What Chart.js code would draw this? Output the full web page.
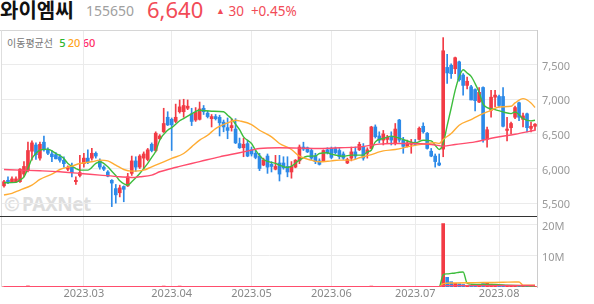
<!DOCTYPE html>
<html>
<head>
<meta charset="utf-8">
<script src="https://cdn.jsdelivr.net/npm/chart.js@4.4.1/dist/chart.umd.min.js"></script>
<style>
  body { margin: 0; background: #fff; width: 594px; height: 304px; overflow: hidden; position: relative; font-family: 'Noto Sans', 'Noto Sans CJK KR', sans-serif; }
  .t { position: absolute; white-space: nowrap; }
  .ln { position: absolute; pointer-events: none; }
  canvas { position: absolute; left: 0; }
</style>
</head>
<body>
<div class="t" style="left:0;top:0;font:700 20px/20px 'Noto Sans CJK KR';color:#111">와이엠씨</div>
<div class="t" style="left:86px;top:4px;font:400 14px/14px 'Noto Sans';color:#a0a0a0">155650</div>
<div class="t" style="left:147px;top:-2px;font:400 22px/22px 'Noto Sans';color:#f24b57">6,640</div>
<div class="t" style="left:216px;top:4px;font:400 13.5px/14px 'Noto Sans';color:#f24b57"><span style="font-size:9px;position:relative;top:-2px">▲</span> 30 &nbsp;+0.45%</div>

<div class="t" style="left:4px;top:195px;font:700 19px/19px 'Noto Sans';color:#dedede;letter-spacing:-0.5px">©&thinsp;PAXNet</div>
<div class="t" style="left:7px;top:35px;font:400 10px/10px 'Noto Sans CJK KR';color:#777">이동평균선
  <span style="font:500 11px 'Noto Sans';color:#2db52d;margin-left:4px">5</span>
  <span style="font:500 11px 'Noto Sans';color:#ffa31a">20</span>
  <span style="font:500 11px 'Noto Sans';color:#ff2d64">60</span></div>

<canvas id="priceChart" width="594" height="187" style="top:30px"></canvas>
<canvas id="volChart" width="594" height="87" style="top:217px"></canvas>

<div class="ln" style="left:0;top:30px;width:537px;height:1px;background:#d6d6d6"></div>
<div class="ln" style="left:1px;top:30px;width:1px;height:257px;background:#dedede"></div>
<div class="ln" style="left:537px;top:30px;width:1px;height:258px;background:#cccccc"></div>
<div class="ln" style="left:0;top:216px;width:537px;height:1px;background:#333"></div>

<script>
// 일봉 시세 (2023.02.01 ~ 2023.08.14)
const opens = [5750,5830,5810,5810,5810,5920,5970,6250,6340,6150,6380,6270,6210,6200,6170,6120,5990,6020,5810,5900,
  6070,6150,6150,6220,6110,6020,5950,5830,5710,5650,5740,5750,5930,6110,6020,6150,6130,6350,6260,6430,
  6530,6740,6710,6680,6820,6820,6870,6790,6700,6710,6870,6800,6720,6750,6740,6670,6590,6590,6570,6360,
  6300,6360,6270,6220,6180,6050,6180,6060,5990,6080,6080,6030,5950,6020,6110,6310,6300,6260,6180,6110,
  6110,6270,6290,6290,6260,6210,6080,6150,6240,6270,6310,6220,6290,6600,6470,6410,6420,6450,6360,6700,
  6410,6320,6350,6380,6420,6610,6510,6250,6180,6080,6280,7460,7490,7440,7540,7350,7200,7180,7140,6960,
  7170,6420,6840,7030,7040,7040,6550,6590,6740,6950,6710,6790,6580,6610];
const highs = [5830,5880,5880,5880,6000,6100,6380,6400,6370,6380,6470,6300,6260,6230,6200,6170,6040,6080,5880,6190,
  6220,6270,6290,6240,6140,6040,5970,5840,5770,5760,5750,5930,6180,6170,6200,6240,6290,6370,6530,6490,
  6870,6820,6730,6930,6990,7000,6990,6870,6880,6960,6910,6830,6780,6780,6770,6700,6730,6720,6720,6440,
  6440,6410,6310,6260,6220,6150,6210,6100,6190,6190,6170,6170,6100,6130,6340,6380,6310,6290,6220,6140,
  6270,6300,6310,6310,6290,6240,6150,6310,6310,6380,6360,6300,6610,6630,6530,6550,6480,6530,6650,6710,
  6450,6410,6420,6420,6600,6660,6520,6290,6210,6210,7890,7650,7510,7610,7550,7370,7320,7200,7150,7170,
  7180,6600,7130,7130,7060,7170,6740,6670,6900,6960,6800,6800,6670,6650];
const lows = [5730,5780,5800,5800,5800,5880,5950,6120,6130,6120,6250,6200,6100,6140,6090,6020,5970,5880,5770,5880,
  6020,6070,6120,6150,5990,5970,5880,5450,5500,5590,5520,5740,5900,5960,6000,6000,6110,6240,6240,6420,
  6520,6620,6260,6660,6800,6740,6850,6620,6680,6700,6780,6730,6600,6700,6470,6530,6430,6540,6360,6290,
  6170,6170,6180,6140,5970,6040,5930,5950,5980,5820,5990,5880,5860,6010,6070,6260,6230,6130,6070,6050,
  6100,6210,6140,6210,6140,6130,6070,6110,6140,6260,6120,6150,6280,6440,6370,6340,6360,6340,6340,6380,
  6220,6310,6220,6330,6410,6510,6280,6170,6020,6040,6170,7230,7300,7370,7260,7060,7150,6990,6830,6950,
  6380,6310,6740,6890,6890,6600,6400,6500,6720,6690,6600,6530,6530,6550];
const closes = [5810,5800,5850,5850,5990,6030,6260,6370,6200,6350,6270,6220,6170,6140,6120,6070,6020,5940,5830,5940,
  6150,6090,6220,6180,6020,5990,5890,5790,5620,5720,5700,5880,6110,6020,6180,6210,6270,6260,6510,6470,
  6650,6630,6630,6740,6890,6910,6900,6680,6810,6860,6820,6750,6750,6720,6660,6600,6550,6620,6370,6300,
  6350,6180,6210,6160,6000,6120,6020,6030,6030,5920,6010,5950,6030,6120,6310,6280,6240,6150,6100,6060,
  6260,6230,6160,6230,6170,6150,6130,6240,6180,6350,6150,6270,6600,6460,6410,6500,6450,6410,6570,6410,
  6320,6370,6370,6350,6580,6530,6290,6180,6100,6050,7700,7380,7370,7600,7280,7200,7260,6990,6980,7100,
  6420,6560,7030,7060,6910,6610,6570,6650,6880,6740,6760,6590,6610,6640];
// 거래량 (백만주)
const volumes = [0.10,0.08,0.09,0.07,0.15,0.18,0.35,0.20,0.12,0.15,0.14,0.08,0.07,0.06,0.07,0.08,0.06,0.09,0.10,0.12,
  0.14,0.10,0.09,0.07,0.08,0.06,0.07,0.15,0.14,0.09,0.08,0.10,0.16,0.09,0.10,0.09,0.11,0.10,0.22,0.12,
  0.30,0.18,0.16,0.14,0.30,0.20,0.12,0.13,0.10,0.14,0.09,0.08,0.07,0.06,0.09,0.08,0.10,0.07,0.12,0.08,
  0.07,0.08,0.06,0.05,0.09,0.06,0.07,0.05,0.06,0.08,0.06,0.07,0.06,0.07,0.14,0.08,0.06,0.07,0.06,0.05,
  0.09,0.06,0.07,0.05,0.06,0.05,0.05,0.08,0.06,0.09,0.07,0.08,0.30,0.14,0.10,0.09,0.07,0.06,0.15,0.12,
  0.09,0.06,0.07,0.05,0.12,0.10,0.09,0.07,0.08,0.07,20.3,3.1,1.7,1.2,1.0,0.8,0.5,0.6,0.5,0.4,
  1.1,1.2,0.9,0.5,0.4,0.6,0.4,0.3,0.4,0.4,0.3,0.3,0.2,0.2];

// 이동평균선 (그림에서 읽은 값, [봉 번호, 값])
const ma5 = [[0,5795],[3,5800],[4,5833],[5,5880],[6,6000],[7,6145],[8,6217],[9,6265],[11,6280],[13,6217],[15,6145],
  [16,6073],[18,6000],[19,5977],[21,5977],[23,6073],[24,6097],[26,6025],[27,5960],[28,5900],[29,5823],[31,5761],
  [32,5809],[34,5929],[36,6073],[37,6160],[38,6250],[39,6409],[41,6553],[42,6590],[44,6690],[45,6720],[47,6790],
  [49,6841],[52,6827],[55,6820],[56,6769],[57,6720],[58,6640],[59,6560],[60,6457],[62,6361],[63,6265],[65,6130],
  [68,6073],[69,6049],[71,6015],[72,6034],[74,6121],[76,6178],[78,6180],[79,6217],[81,6227],[82,6207],[85,6178],
  [87,6193],[90,6193],[91,6241],[92,6265],[93,6385],[95,6433],[97,6467],[98,6457],[100,6419],[102,6380],[103,6371],
  [105,6409],[107,6400],[108,6337],[109,6275],[110,6360],[111,6620],[112,6870],[113,7129],[114,7322],[115,7425],
  [116,7380],[117,7330],[118,7226],[119,7100],[120,6930],[121,6880],[123,6851],[125,6817],[127,6793],[128,6817],
  [130,6721],[132,6688],[133,6697]];
const ma20 = [[0,5617],[2,5641],[4,5689],[7,5761],[9,5842],[12,5919],[14,5986],[17,6034],[19,6073],[22,6097],
  [24,6121],[26,6111],[28,6049],[30,5986],[32,5962],[35,5977],[37,6025],[40,6097],[42,6145],[45,6217],[47,6313],
  [49,6409],[51,6480],[53,6577],[56,6659],[58,6697],[59,6688],[62,6635],[64,6553],[67,6457],[69,6361],[72,6275],
  [74,6178],[77,6121],[79,6097],[82,6111],[84,6121],[87,6121],[89,6155],[92,6200],[94,6241],[95,6255],[98,6275],
  [102,6323],[105,6352],[108,6371],[109,6361],[110,6420],[112,6505],[114,6625],[117,6707],[119,6769],[122,6841],
  [124,6889],[127,6899],[128,6947],[130,7009],[132,6947],[133,6880]];
const ma60 = [[0,5986],[4,5977],[9,5967],[14,5953],[19,5929],[24,5905],[29,5881],[32,5871],[34,5881],[37,5905],
  [39,5953],[42,6001],[44,6030],[47,6073],[49,6100],[54,6169],[59,6227],[62,6265],[64,6289],[69,6299],[74,6294],
  [79,6289],[84,6299],[89,6313],[92,6337],[94,6352],[97,6361],[102,6361],[107,6347],[109,6330],[110,6323],
  [113,6347],[118,6385],[123,6447],[128,6495],[133,6553]];
const volMa5 = [[0,0.12],[109,0.1],[110,3.9],[111,4.2],[112,4.35],[113,4.5],[114,4.7],[115,4.8],[116,1.2],
  [117,0.9],[120,0.8],[123,0.8],[126,0.6],[130,0.4],[133,0.3]];
const volMa20 = [[0,0.12],[109,0.1],[110,1.1],[112,1.3],[118,1.4],[122,1.45],[125,1.5],[128,1.6],[129,1.6],
  [130,0.6],[133,0.55]];
const volMa60 = [[0,0.12],[109,0.1],[110,0.45],[133,0.5]];

// 눈금
const priceTicks = [5500, 6000, 6500, 7000, 7500];
const volTicks = [10, 20];

const holidays = ['2023-03-01', '2023-05-01', '2023-05-05', '2023-05-29', '2023-06-06'];

const RED = '#f23b45';
const BLUE = '#2d8ae8';
const GREEN = '#3dbd3d';
const ORANGE = '#ffac33';
const PINK = '#ff4d6d';

// 거래일 라벨 만들기
const dates = [];
for (let d = new Date(Date.UTC(2023, 1, 1)); dates.length < closes.length; d.setUTCDate(d.getUTCDate() + 1)) {
  const s = d.toISOString().slice(0, 10);
  const wd = d.getUTCDay();
  if (wd === 0 || wd === 6 || holidays.includes(s)) continue;
  dates.push(s.replace(/-/g, '.'));
}
const isMonthStart = i => i > 0 && dates[i] && dates[i].slice(0, 7) !== dates[i - 1].slice(0, 7);
const candleColors = closes.map((c, i) => c >= opens[i] ? RED : BLUE);
const toPoints = arr => arr.map(([i, v]) => ({ x: dates[i], y: v }));

Chart.defaults.font.family = "'Noto Sans', sans-serif";
Chart.defaults.animation = false;

function xAxis(showLabels) {
  return {
    offset: true,
    grid: { offset: false, drawTicks: false, color: c => isMonthStart(c.index) ? '#ebebeb' : 'rgba(0,0,0,0)' },
    border: { display: false },
    ticks: {
      display: showLabels, autoSkip: false, maxRotation: 0, padding: 0,
      color: '#888', font: { size: 11 },
      callback: (v, i) => isMonthStart(i) ? dates[i].slice(0, 7) : ''
    },
    afterFit: s => { s.height = showLabels ? 17 : 0; s.paddingLeft = 0; s.paddingRight = 0; }
  };
}

function yAxis(min, max, tickList, fmt) {
  return {
    position: 'right', min: min, max: max,
    afterBuildTicks: s => { s.ticks = tickList.map(v => ({ value: v })); },
    ticks: { padding: 5, labelOffset: 2, color: '#999', font: { size: 11 }, callback: fmt },
    grid: { color: '#ebebeb', drawTicks: false },
    border: { display: false },
    afterFit: s => { s.width = 57; s.paddingTop = 0; s.paddingBottom = 0; }
  };
}

function maLine(points, color) {
  return {
    type: 'line', data: toPoints(points), borderColor: color, borderWidth: 1.4,
    pointRadius: 0, cubicInterpolationMode: 'monotone', spanGaps: true, order: 0
  };
}

const baseOptions = {
  responsive: false,
  layout: { padding: { left: 2, right: 0, top: 0, bottom: 0 } },
  plugins: { legend: { display: false }, tooltip: { enabled: false } }
};

// 가격 차트
new Chart('priceChart', {
  type: 'bar',
  data: {
    labels: dates,
    datasets: [
      maLine(ma60, PINK),
      maLine(ma20, ORANGE),
      maLine(ma5, GREEN),
      {
        data: opens.map((o, i) => [o, closes[i]]),
        backgroundColor: candleColors, barThickness: 3, minBarLength: 1, grouped: false, order: 1
      },
      {
        data: lows.map((l, i) => [l, highs[i]]),
        backgroundColor: candleColors, barThickness: 1, grouped: false, order: 2
      }
    ]
  },
  options: {
    ...baseOptions,
    scales: {
      x: xAxis(false),
      y: yAxis(5300, 8000, priceTicks, v => v.toLocaleString('en-US'))
    }
  }
});

// 거래량 차트
new Chart('volChart', {
  type: 'bar',
  data: {
    labels: dates,
    datasets: [
      maLine(volMa60, PINK),
      maLine(volMa20, ORANGE),
      maLine(volMa5, GREEN),
      { data: volumes, backgroundColor: candleColors, barThickness: 3, order: 1 }
    ]
  },
  options: {
    ...baseOptions,
    scales: {
      x: xAxis(true),
      y: yAxis(0, 22.4, volTicks, v => v + 'M')
    }
  }
});
</script>
</body>
</html>
